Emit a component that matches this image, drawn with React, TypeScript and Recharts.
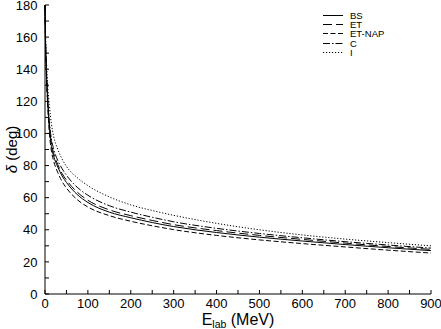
import { Legend, Line, LineChart, XAxis, YAxis } from "recharts";

const energies = [0, 1, 3, 6, 10, 15, 20, 30, 40, 50, 75, 100, 150, 200, 250, 300, 400, 500, 600, 700, 800, 900];
const bs = [180, 160, 140, 121, 104, 92, 86, 79, 73.5, 69.5, 62, 57, 51, 47.5, 44.5, 42, 38.3, 35.4, 33, 30.8, 28.8, 27];
const et = [180, 161, 141, 123, 106, 94, 88, 80.5, 75, 71, 63.5, 58.4, 52.4, 48.8, 45.8, 43.2, 39.5, 36.5, 34, 31.7, 29.6, 27.8];
const etNap = [180, 159, 138, 119, 101, 89, 83, 75.5, 70, 66, 58.8, 54.2, 48.8, 45.3, 42.5, 40.1, 36.5, 33.7, 31.4, 29.3, 27.3, 25.5];
const c = [180, 162, 143, 125, 108, 96.5, 90.5, 83, 78, 74, 66.5, 61.5, 55, 51, 47.8, 45, 40.9, 37.7, 35, 32.6, 30.5, 28.6];
const ideal = [180, 165, 148, 131, 118, 106, 98.5, 90, 84, 79.5, 72.5, 67.5, 60.5, 55.5, 52, 49, 44, 40, 36.8, 34.2, 32, 30];

const xTicks = [0, 50, 100, 150, 200, 250, 300, 350, 400, 450, 500, 550, 600, 650, 700, 750, 800, 850, 900];
const yTicks = [0, 10, 20, 30, 40, 50, 60, 70, 80, 90, 100, 110, 120, 130, 140, 150, 160, 170, 180];

const series = [
  { key: "bs", name: "BS", dash: undefined as string | undefined },
  { key: "et", name: "ET", dash: "9 4" },
  { key: "etNap", name: "ET-NAP", dash: "5 2.5" },
  { key: "c", name: "C", dash: "7 2 1.5 2" },
  { key: "ideal", name: "I", dash: "1.2 1.8" },
];

const data = energies.map((E, i) => ({ E, bs: bs[i], et: et[i], etNap: etNap[i], c: c[i], ideal: ideal[i] }));

const FONT = "'Liberation Sans', Arial, sans-serif";

function LegendBox() {
  return (
    <div style={{ fontFamily: FONT, fontSize: 9.5, color: "#000" }}>
      {series.map((s) => (
        <div key={s.key} style={{ display: "flex", alignItems: "center", height: 9.2, lineHeight: "9px", overflow: "visible" }}>
          <svg width={20} height={9} style={{ marginRight: 7, display: "block" }}>
            <line x1={0} x2={20} y1={4.5} y2={4.5} stroke="#000" strokeWidth={1} strokeDasharray={s.dash} />
          </svg>
          <span>{s.name}</span>
        </div>
      ))}
    </div>
  );
}

export default function App() {
  return (
    <div style={{ position: "absolute", left: 0, top: 0, background: "#fff" }}>
      <LineChart width={441} height={329} data={data} margin={{ top: 5, right: 10, left: 0, bottom: 0 }}>
        <XAxis
          dataKey="E"
          type="number"
          domain={[0, 900]}
          ticks={xTicks}
          interval={0}
          tickFormatter={(v: number) => (v % 100 === 0 ? String(v) : "")}
          tickSize={-4}
          tickMargin={9}
          height={35}
          axisLine={{ stroke: "#000" }}
          tickLine={{ stroke: "#000" }}
          tick={{ fill: "#000", fontSize: 13, fontFamily: FONT }}
          label={{
            content: () => (
              <text x={238} y={325} textAnchor="middle" fontFamily={FONT} fontSize={16} fill="#000">
                <tspan>E</tspan>
                <tspan fontSize={10.5} dy={3}>lab</tspan>
                <tspan dy={-3}> (MeV)</tspan>
              </text>
            ),
          }}
        />
        <XAxis
          xAxisId="top"
          orientation="top"
          dataKey="E"
          type="number"
          domain={[0, 900]}
          ticks={xTicks}
          interval={0}
          tick={false}
          tickSize={-4}
          height={0}
          axisLine={{ stroke: "#000" }}
          tickLine={{ stroke: "#000" }}
        />
        <YAxis
          type="number"
          domain={[0, 180]}
          ticks={yTicks}
          interval={0}
          tickFormatter={(v: number) => (v % 20 === 0 ? String(v) : "")}
          tickSize={-4}
          tickMargin={11.5}
          width={45}
          axisLine={{ stroke: "#000" }}
          tickLine={{ stroke: "#000" }}
          tick={{ fill: "#000", fontSize: 13, fontFamily: FONT }}
          label={{
            content: () => (
              <text x={17} y={149.5} transform="rotate(-90 17 149.5)" textAnchor="middle" fontFamily={FONT} fontSize={15} fill="#000">
                <tspan fontStyle="italic">δ</tspan>
                <tspan> (deg)</tspan>
              </text>
            ),
          }}
        />
        <YAxis
          yAxisId="right"
          orientation="right"
          type="number"
          domain={[0, 180]}
          ticks={yTicks}
          interval={0}
          tick={false}
          tickSize={-4}
          width={0}
          axisLine={{ stroke: "#000" }}
          tickLine={{ stroke: "#000" }}
        />
        <Legend
          layout="vertical"
          align="center"
          verticalAlign="middle"
          wrapperStyle={{ position: "absolute", left: 323, top: 11, width: "auto" }}
          content={() => <LegendBox />}
        />
        {series.map((s) => (
          <Line
            key={s.key}
            dataKey={s.key}
            name={s.name}
            type="monotone"
            stroke="#000"
            strokeWidth={1}
            strokeDasharray={s.dash}
            dot={false}
            activeDot={false}
            isAnimationActive={false}
          />
        ))}
      </LineChart>
    </div>
  );
}
